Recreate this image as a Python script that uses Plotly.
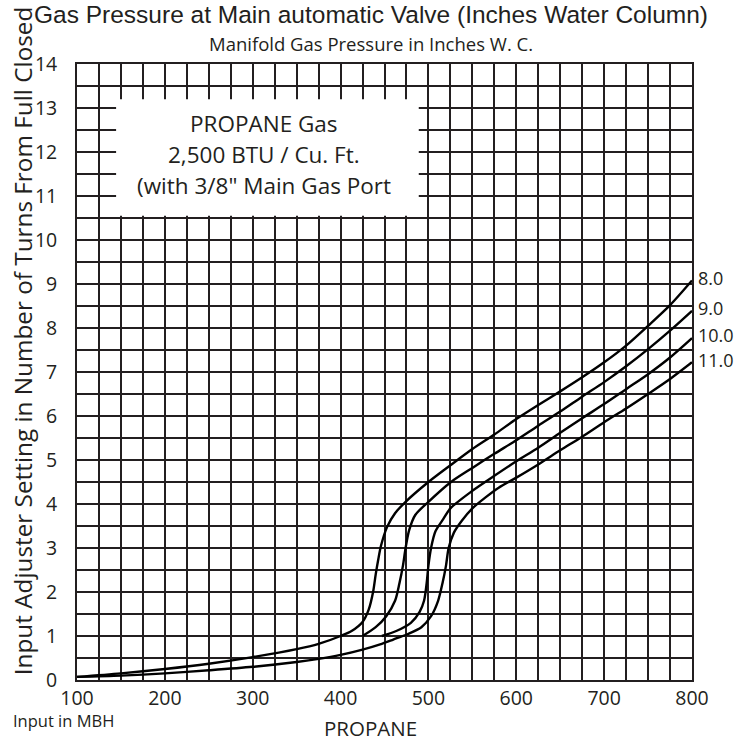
import plotly.graph_objects as go

# ---------------- data ----------------
x_tick_vals = [100, 200, 300, 400, 500, 600, 700, 800]
y_tick_vals = list(range(0, 15))

curve_labels = ["8.0", "9.0", "10.0", "11.0"]

x_80 = [100, 150, 200, 250, 300, 350, 375, 400, 413, 425, 432, 437, 440, 443, 446, 453, 462, 474,
        500, 525, 550, 575, 600, 625, 650, 675, 700, 725, 750, 775, 800]
y_80 = [0.07, 0.15, 0.25, 0.37, 0.52, 0.70, 0.82, 1.00, 1.12, 1.32, 1.60, 2.00, 2.40, 2.75, 3.05, 3.48, 3.79, 4.05,
        4.50, 4.88, 5.25, 5.58, 5.93, 6.25, 6.56, 6.88, 7.22, 7.60, 8.05, 8.52, 9.08]

x_90 = [425, 440, 452, 462, 467, 471, 474, 478, 485, 500, 525, 550, 575, 600, 625, 650, 675, 700, 725, 750, 775, 800]
y_90 = [1.00, 1.20, 1.45, 1.80, 2.20, 2.60, 3.00, 3.40, 3.75, 4.05, 4.49, 4.82, 5.14, 5.45, 5.78, 6.10, 6.44, 6.77, 7.13, 7.52, 7.94, 8.39]

x_100 = [447, 464, 480, 490, 495, 498, 500, 503, 508, 517, 525, 550, 575, 600, 625, 650, 675, 700, 725, 750, 775, 800]
y_100 = [1.00, 1.12, 1.30, 1.55, 1.80, 2.20, 2.60, 3.00, 3.38, 3.66, 3.90, 4.30, 4.64, 4.97, 5.28, 5.62, 5.95, 6.27, 6.61, 6.95, 7.33, 7.77]

x_110 = [100, 150, 200, 250, 300, 350, 375, 400, 425, 445, 460, 476, 492, 503, 511, 516, 520, 523, 529, 538, 550,
         565, 580, 600, 625, 650, 675, 700, 725, 750, 775, 800]
y_110 = [0.07, 0.10, 0.15, 0.22, 0.30, 0.41, 0.48, 0.57, 0.69, 0.81, 0.92, 1.04, 1.20, 1.45, 1.80, 2.20, 2.60, 3.00, 3.35, 3.62, 3.90,
         4.15, 4.37, 4.60, 4.90, 5.22, 5.53, 5.86, 6.17, 6.50, 6.84, 7.22]

curves_x = [x_80, x_90, x_100, x_110]
curves_y = [y_80, y_90, y_100, y_110]

title_text = "Gas Pressure at Main automatic Valve (Inches Water Column)"
subtitle_text = "Manifold Gas Pressure in Inches W. C."
y_title = "Input Adjuster Setting in Number of Turns From Full Closed"
x_title = "PROPANE"
x_unit = "Input in MBH"
box_lines = ["PROPANE Gas", "2,500 BTU / Cu. Ft.", "(with 3/8\" Main Gas Port"]

# ---------------- figure ----------------
INK = "#231f20"
HUM = "Open Sans"

fig = go.Figure()
for xs, ys in zip(curves_x, curves_y):
    fig.add_trace(go.Scatter(x=xs, y=ys, mode="lines",
                             line=dict(color="#000000", width=2.4, shape="spline", smoothing=0.8),
                             hoverinfo="skip", showlegend=False))

# white label box hiding the grid (between grid and traces)
fig.add_shape(type="rect", xref="x", yref="y", x0=144.5, x1=489, y0=10.55, y1=13.2,
              fillcolor="white", line=dict(width=0), layer="between")

annotations = []
# curve labels at the right end of each curve
for lab, xs, ys in zip(curve_labels, curves_x, curves_y):
    annotations.append(dict(x=xs[-1], y=ys[-1] + 0.06, xref="x", yref="y", text=lab, showarrow=False,
                            xanchor="left", yanchor="middle", xshift=4,
                            font=dict(family=HUM, size=18, color=INK)))
# box text
for i, t in enumerate(box_lines):
    annotations.append(dict(x=313, y=12.65 - i * 0.705, xref="x", yref="y", text=t, showarrow=False,
                            xanchor="center", yanchor="middle",
                            font=dict(family=HUM, size=22.5, color=INK)))
# titles
annotations += [
    dict(x=0.478, y=1.081, xref="paper", yref="paper", text=title_text, showarrow=False,
         xanchor="center", yanchor="middle", font=dict(family="Liberation Sans", size=24.5, color=INK)),
    dict(x=0.478, y=1.0325, xref="paper", yref="paper", text=subtitle_text, showarrow=False,
         xanchor="center", yanchor="middle", font=dict(family=HUM, size=18.5, color=INK)),
    dict(x=-0.0894, y=0.55, xref="paper", yref="paper", text=y_title, showarrow=False, textangle=-90,
         xanchor="center", yanchor="middle", font=dict(family=HUM, size=24.3, color=INK)),
    dict(x=-0.107, y=-0.066, xref="paper", yref="paper", text=x_unit, showarrow=False,
         xanchor="left", yanchor="middle", font=dict(family=HUM, size=16.5, color=INK)),
    dict(x=0.478, y=-0.0775, xref="paper", yref="paper", text=x_title, showarrow=False,
         xanchor="center", yanchor="middle", font=dict(family=HUM, size=20.5, color=INK)),
]

axis_common = dict(showgrid=True, gridcolor=INK, gridwidth=1.7, zeroline=False,
                   showline=True, linecolor=INK, linewidth=1.7, mirror=True,
                   ticks="", tickfont=dict(family=HUM, size=19.5, color=INK))

fig.update_layout(
    width=740, height=741,
    margin=dict(l=77, r=48, t=64, b=61),
    paper_bgcolor="white", plot_bgcolor="white",
    xaxis=dict(range=[100, 800], tickmode="linear", tick0=100, dtick=100, ticklabelstandoff=0,
               minor=dict(tick0=100, dtick=25, showgrid=True, gridcolor=INK, gridwidth=1.7, ticks=""),
               **axis_common),
    yaxis=dict(range=[0, 14], tickmode="linear", tick0=0, dtick=1, ticklabelstandoff=14,
               minor=dict(tick0=0, dtick=0.5, showgrid=True, gridcolor=INK, gridwidth=1.7, ticks=""),
               **axis_common),
    annotations=annotations,
)
# remove the default page margin so the figure fills the window exactly
fig.write_html("out.html", config={"displayModeBar": False},
               post_script="document.body.style.margin='0';")
